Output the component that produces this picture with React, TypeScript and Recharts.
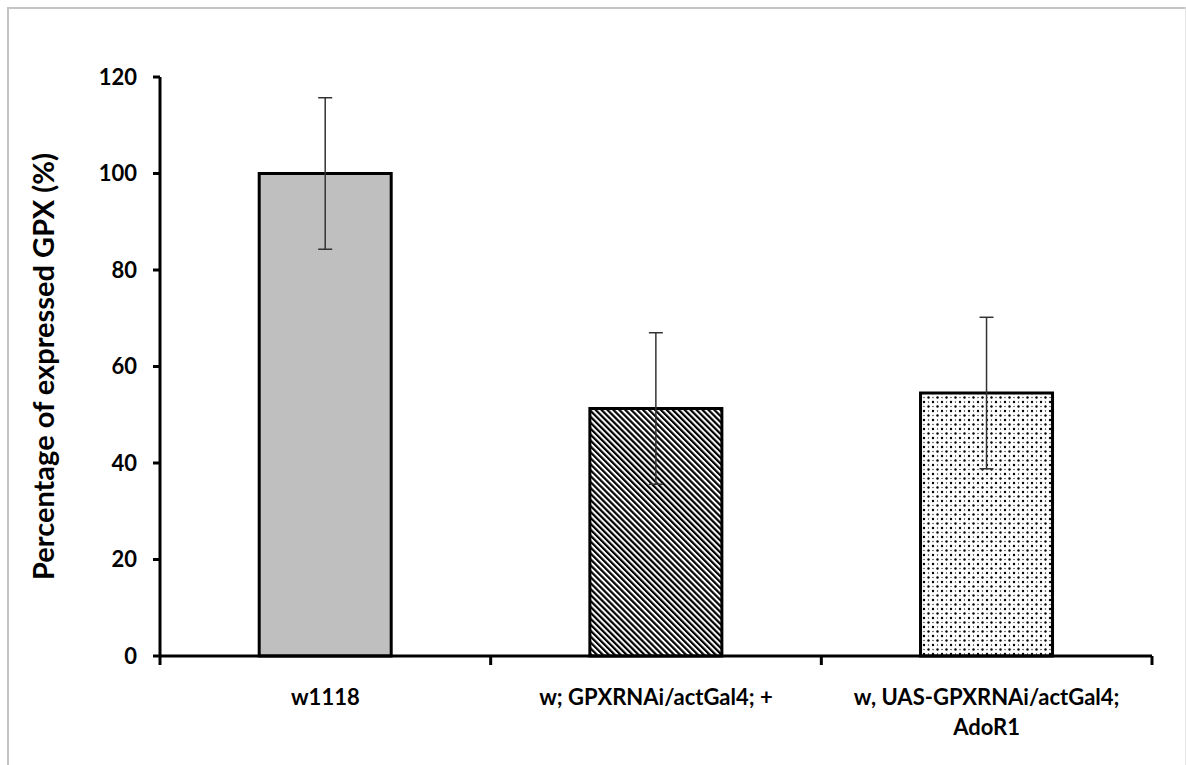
import { BarChart, Bar, XAxis, YAxis, Cell, ErrorBar } from 'recharts'

const categories = ['w1118', 'w; GPXRNAi/actGal4; +', 'w, UAS-GPXRNAi/actGal4; AdoR1']
const values = [100, 51.3, 54.5]
const errors = [15.7, 15.7, 15.7]
const yTicks = [0, 20, 40, 60, 80, 100, 120]
const fills = ['#bfbfbf', 'url(#hatch)', 'url(#dots)']

const data = categories.map((name, i) => ({ name, value: values[i], err: errors[i] }))

const font = 'Lato, "Open Sans", sans-serif'

// greedy word wrap by character count
function wrap(text: string, max: number) {
  const lines: string[] = []
  let cur = ''
  for (const w of text.split(' ')) {
    const next = cur ? cur + ' ' + w : w
    if (next.length > max && cur) {
      lines.push(cur)
      cur = w
    } else cur = next
  }
  if (cur) lines.push(cur)
  return lines
}

function CategoryTick(props: any) {
  const { x, y, payload, index, visibleTicksCount } = props
  const half = payload.offset ?? 0
  const last = index === (visibleTicksCount ?? categories.length) - 1
  const lines = wrap(String(payload.value), 24)
  return (
    <g>
      <line x1={x - half} y1={y - 8} x2={x - half} y2={y + 1} stroke="#000" strokeWidth={3} />
      {last && <line x1={x + half} y1={y - 8} x2={x + half} y2={y + 1} stroke="#000" strokeWidth={3} />}
      <text
        x={x}
        y={y + 41}
        textAnchor="middle"
        style={{ fontFamily: font, fontWeight: 700, fontSize: 22, fill: '#000' }}
      >
        {lines.map((l, i) => (
          <tspan key={i} x={x} dy={i === 0 ? 0 : 30}>
            {l}
          </tspan>
        ))}
      </text>
    </g>
  )
}

export default function App() {
  return (
    <div style={{ position: 'relative', width: 1186, height: 765, background: '#fff' }}>
      <style>{`body{margin:0;overflow:hidden}`}</style>
      <div
        style={{
          position: 'absolute', left: 7, top: 7, width: 1179, height: 758,
          borderTop: '2px solid #c4c4c4', borderLeft: '2px solid #c4c4c4', borderRight: '1px solid #e6e6e6',
          boxSizing: 'border-box',
        }}
      />
      <svg width={0} height={0} style={{ position: 'absolute' }}>
        <defs>
          <pattern id="hatch" patternUnits="userSpaceOnUse" width={4.2} height={4.2} patternTransform="rotate(-45)">
            <rect width={4.2} height={4.2} fill="#fff" />
            <rect width={2.2} height={4.2} fill="#000" />
          </pattern>
          <pattern id="dots" patternUnits="userSpaceOnUse" width={9} height={9}>
            <rect width={9} height={9} fill="#fff" />
            <circle cx={1.5} cy={1.5} r={1.2} fill="#000" />
            <circle cx={6} cy={6} r={1.2} fill="#000" />
            <circle cx={6} cy={1.5} r={0.7} fill="#222" />
            <circle cx={1.5} cy={6} r={0.7} fill="#222" />
          </pattern>
        </defs>
      </svg>
      <div style={{ position: 'absolute', left: 0, top: 0 }}>
        <BarChart
          width={1186}
          height={765}
          data={data}
          margin={{ top: 77, right: 34, left: 0, bottom: 0 }}
          barCategoryGap="30%"
        >
          <XAxis
            dataKey="name"
            height={109}
            axisLine={{ stroke: '#000', strokeWidth: 3 }}
            tickLine={false}
            tick={<CategoryTick />}
            interval={0}
          />
          <YAxis
            width={160}
            domain={[0, 120]}
            ticks={yTicks}
            axisLine={{ stroke: '#000', strokeWidth: 3 }}
            tickLine={{ stroke: '#000', strokeWidth: 3 }}
            tickSize={7}
            tickMargin={16}
            tick={{ fontFamily: font, fontWeight: 700, fontSize: 22, fill: '#000' }}
            label={{
              value: 'Percentage of expressed GPX (%)',
              angle: -90,
              position: 'insideLeft',
              offset: 44,
              style: { fontFamily: font, fontWeight: 700, fontSize: 29, fill: '#000', textAnchor: 'middle' },
            }}
          />
          <Bar dataKey="value" stroke="#000" strokeWidth={3} isAnimationActive={false}>
            {data.map((d, i) => (
              <Cell key={d.name} fill={fills[i]} />
            ))}
            <ErrorBar dataKey="err" width={7} stroke="#333" strokeWidth={1.5} />
          </Bar>
        </BarChart>
      </div>
    </div>
  )
}
